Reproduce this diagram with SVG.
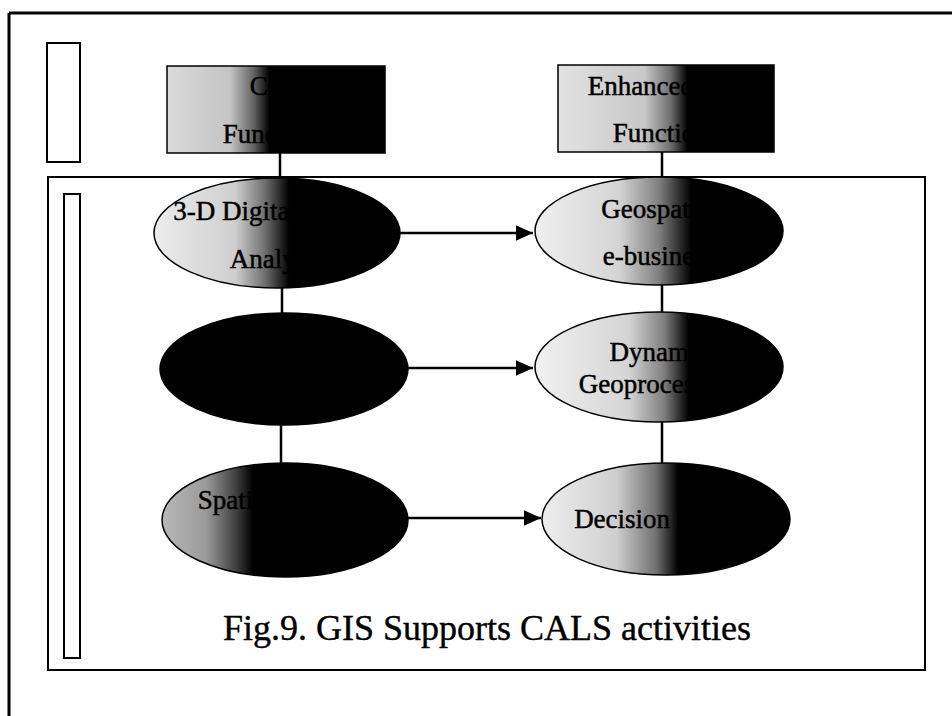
<svg xmlns="http://www.w3.org/2000/svg" width="952" height="716" viewBox="0 0 952 716">
<style>
.frame{fill:none;stroke:#000;stroke-width:2}
.node{stroke:#000;stroke-width:1.5}
.t{font-family:"Liberation Serif","Times New Roman",serif;font-size:27px;fill:#000;stroke:#000;stroke-width:0.5;text-anchor:middle}
.cap{font-family:"Liberation Serif","Times New Roman",serif;font-size:36px;fill:#000;stroke:#000;stroke-width:0.4;text-anchor:middle}
.con{stroke:#000;stroke-width:2.5;fill:none}
</style>
<defs>
<marker id="ah" markerWidth="8" markerHeight="8" refX="7" refY="4" orient="auto" markerUnits="strokeWidth">
<path d="M0,0.8 L7,4 L0,7.2 Z" fill="#000"/>
</marker>
<linearGradient id="gBL" x1="0" y1="0" x2="1" y2="0"><stop offset="0" stop-color="#dadada"/><stop offset="0.29" stop-color="#c4c4c4"/><stop offset="0.40" stop-color="#606060"/><stop offset="0.47" stop-color="#000"/><stop offset="1" stop-color="#000"/></linearGradient>
<linearGradient id="gBR" x1="0" y1="0" x2="1" y2="0"><stop offset="0" stop-color="#e2e2e2"/><stop offset="0.40" stop-color="#c8c8c8"/><stop offset="0.52" stop-color="#707070"/><stop offset="0.60" stop-color="#000"/><stop offset="1" stop-color="#000"/></linearGradient>
<linearGradient id="gL1" x1="0" y1="0" x2="1" y2="0"><stop offset="0" stop-color="#ececec"/><stop offset="0.33" stop-color="#cfcfcf"/><stop offset="0.45" stop-color="#707070"/><stop offset="0.55" stop-color="#000"/><stop offset="1" stop-color="#000"/></linearGradient>
<linearGradient id="gL3" x1="0" y1="0" x2="1" y2="0"><stop offset="0" stop-color="#b8b8b8"/><stop offset="0.18" stop-color="#9a9a9a"/><stop offset="0.30" stop-color="#404040"/><stop offset="0.37" stop-color="#000"/><stop offset="1" stop-color="#000"/></linearGradient>
<linearGradient id="gR1" x1="0" y1="0" x2="1" y2="0"><stop offset="0" stop-color="#f0f0f0"/><stop offset="0.34" stop-color="#d4d4d4"/><stop offset="0.50" stop-color="#808080"/><stop offset="0.63" stop-color="#000"/><stop offset="1" stop-color="#000"/></linearGradient>
<linearGradient id="gR2" x1="0" y1="0" x2="1" y2="0"><stop offset="0" stop-color="#f2f2f2"/><stop offset="0.38" stop-color="#d4d4d4"/><stop offset="0.52" stop-color="#808080"/><stop offset="0.62" stop-color="#000"/><stop offset="1" stop-color="#000"/></linearGradient>
<linearGradient id="gR3" x1="0" y1="0" x2="1" y2="0"><stop offset="0" stop-color="#eeeeee"/><stop offset="0.30" stop-color="#cfcfcf"/><stop offset="0.46" stop-color="#707070"/><stop offset="0.55" stop-color="#000"/><stop offset="1" stop-color="#000"/></linearGradient>
</defs>
<rect width="952" height="716" fill="#fff"/>
<g id="frames">
<path d="M9,13 H952 M9,13 V716" stroke="#000" stroke-width="3" fill="none"/>
<rect class="frame" x="47" y="43" width="33" height="119"/>
<rect class="frame" x="48" y="177" width="877" height="493"/>
<rect class="frame" x="64" y="194" width="16" height="464"/>
</g>
<g id="connectors">
<line class="con" x1="280" y1="153" x2="280" y2="178"/>
<line class="con" x1="282" y1="288" x2="282" y2="313"/>
<line class="con" x1="281" y1="425" x2="281" y2="463"/>
<line class="con" x1="662" y1="152" x2="662" y2="177"/>
<line class="con" x1="662" y1="285" x2="662" y2="312"/>
<line class="con" x1="662" y1="422" x2="662" y2="463"/>
<line class="con" x1="400" y1="233" x2="533" y2="233" marker-end="url(#ah)"/>
<line class="con" x1="408" y1="368" x2="533" y2="368" marker-end="url(#ah)"/>
<line class="con" x1="408" y1="518" x2="541" y2="518" marker-end="url(#ah)"/>
</g>
<g id="box-core">
<rect class="node" x="167" y="66" width="218" height="87" fill="url(#gBL)"/>
<text class="t" x="276" y="95">Core</text>
<text class="t" x="276" y="143">Functions</text>
</g>
<g id="box-enhanced">
<rect class="node" x="558" y="65" width="216" height="87" fill="url(#gBR)"/>
<text class="t" x="666" y="95">Enhanced GIS</text>
<text class="t" x="666" y="142">Functions</text>
</g>
<g id="e-3d">
<ellipse class="node" cx="277" cy="233" rx="123" ry="55" fill="url(#gL1)"/>
<text class="t" x="277" y="220">3-D Digital Terrain</text>
<text class="t" x="277" y="268">Analysis</text>
</g>
<g id="e-mid">
<ellipse class="node" cx="284" cy="369" rx="124" ry="56" fill="#000"/>
</g>
<g id="e-spatial">
<ellipse class="node" cx="285" cy="520" rx="123" ry="57" fill="url(#gL3)"/>
<text class="t" x="285" y="509">Spatial Analysis</text>
</g>
<g id="e-geo">
<ellipse class="node" cx="659" cy="231" rx="124" ry="54" fill="url(#gR1)"/>
<text class="t" x="659" y="218">Geospatial</text>
<text class="t" x="659" y="265">e-business</text>
</g>
<g id="e-dyn">
<ellipse class="node" cx="659" cy="367" rx="124" ry="55" fill="url(#gR2)"/>
<text class="t" x="659" y="361">Dynamic</text>
<text class="t" x="659" y="393">Geoprocessing</text>
</g>
<g id="e-dec">
<ellipse class="node" cx="666" cy="519" rx="124" ry="56" fill="url(#gR3)"/>
<text class="t" x="666" y="528">Decision support</text>
</g>
<g id="caption">
<text class="cap" x="487" y="640">Fig.9.  GIS Supports CALS activities</text>
</g>
</svg>
